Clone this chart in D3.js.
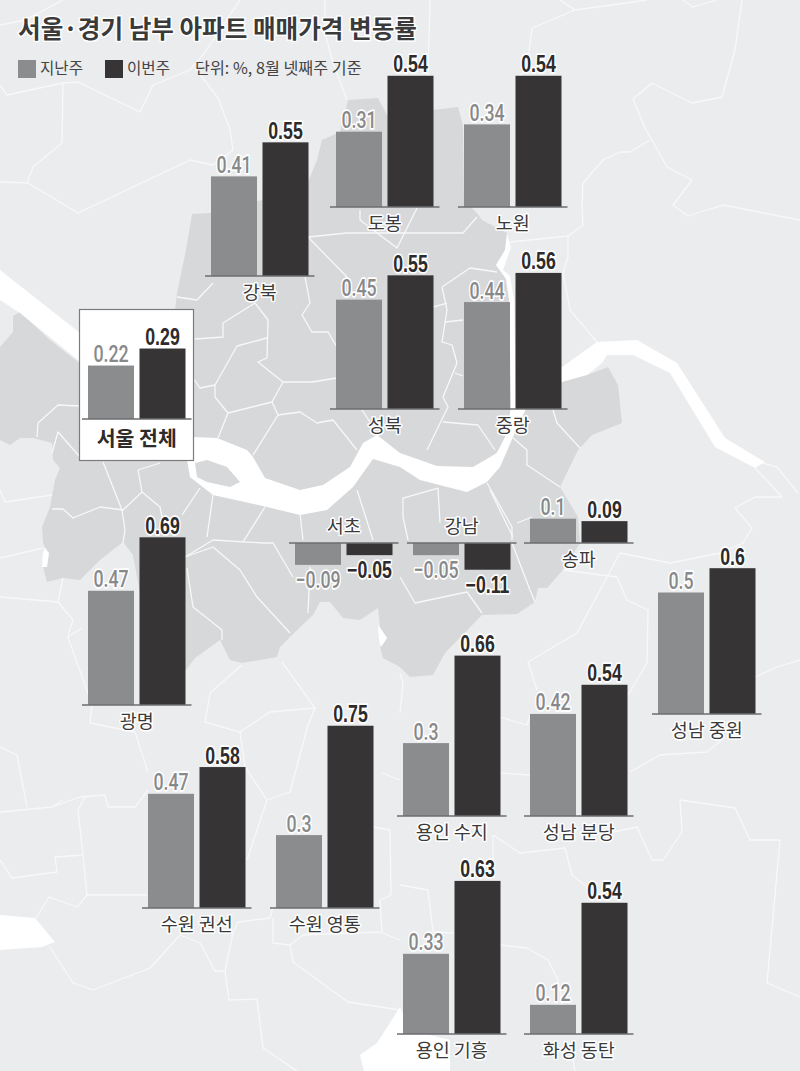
<!DOCTYPE html>
<html><head><meta charset="utf-8">
<script src="https://cdn.jsdelivr.net/npm/d3@7"></script>
<style>html,body{margin:0;padding:0;background:#fff}svg{display:block}</style>
</head><body><div id="chart"></div>
<script>
// ---------- chart data ----------
const titleText = "서울·경기 남부 아파트 매매가격 변동률";
const seriesNames = ["지난주", "이번주"];
const noteText = "단위: %, 8월 넷째주 기준";
const regions   = ["강북","도봉","노원","성북","중랑","서울 전체","광명","서초","강남","송파","성남 중원","용인 수지","성남 분당","수원 권선","수원 영통","용인 기흥","화성 동탄"];
const lastWeek  = [0.41,0.31,0.34,0.45,0.44,0.22,0.47,-0.09,-0.05,0.1,0.5,0.3,0.42,0.47,0.3,0.33,0.12];
const thisWeek  = [0.55,0.54,0.54,0.55,0.56,0.29,0.69,-0.05,-0.11,0.09,0.6,0.66,0.54,0.58,0.75,0.63,0.54];
const lastLabels = ["0.41","0.31","0.34","0.45","0.44","0.22","0.47","−0.09","−0.05","0.1","0.5","0.3","0.42","0.47","0.3","0.33","0.12"];
const thisLabels = ["0.55","0.54","0.54","0.55","0.56","0.29","0.69","−0.05","−0.11","0.09","0.6","0.66","0.54","0.58","0.75","0.63","0.54"];

// ---------- panel layout (left edge, baseline) ----------
const panelLeft = [211,336,464,336,464,88,88,295,413,530,658,403,530,148,276,403,530];
const panelBase = [276,207,207,409,409,419,705,543,543,543,714,816,816,908,908,1034,1034];

// ---------- background map (decorative geography) ----------
const seoulNorth = [[192,214],[210,213],[262,200],[308,182],[317,160],[322,140],[340,132],[348,100],[378,98],[388,117],[433,110],[458,107],[463,125],[464,200],[477,213],[482,220],[507,233],[511,247],[497,265],[507,275],[511,300],[512,400],[510,432],[490,462],[437,478],[400,460],[372,448],[350,478],[300,502],[267,490],[215,468],[185,445],[175,310],[177,293],[186,250]];
const seoulSouth = [[20,312],[13,316],[13,332],[0,347],[0,440],[10,445],[20,438],[33,438],[52,443],[53,460],[60,468],[55,480],[50,507],[42,527],[43,543],[48,553],[42,563],[47,582],[63,578],[80,580],[100,560],[123,542],[133,555],[145,620],[186,670],[195,658],[220,640],[230,660],[242,663],[277,657],[280,647],[292,635],[313,615],[320,602],[330,602],[343,618],[360,620],[378,608],[380,627],[387,638],[380,647],[383,658],[400,667],[410,677],[433,675],[445,653],[482,615],[517,614],[535,602],[538,588],[547,588],[563,570],[580,543],[578,517],[560,487],[578,450],[592,435],[622,423],[618,385],[608,367],[587,375],[565,376],[530,392],[512,430],[490,465],[437,480],[400,462],[372,448],[350,478],[300,502],[267,490],[215,468],[185,445],[120,395],[50,340]];
const hanRiver = [[0,270],[80,333],[193,437],[217,438],[247,450],[253,457],[265,478],[300,490],[323,485],[350,467],[363,443],[377,435],[400,453],[437,466],[473,467],[497,453],[507,433],[512,400],[520,385],[562,367],[597,342],[637,340],[677,363],[725,438],[765,462],[755,468],[715,447],[670,373],[633,355],[607,355],[602,363],[587,375],[562,382],[530,400],[513,437],[500,467],[487,482],[467,492],[420,480],[400,467],[373,459],[353,487],[327,510],[300,515],[267,507],[213,495],[190,477],[187,460],[150,430],[78,360],[20,313],[0,300]];
const yeouido = [[195,463],[207,460],[227,467],[240,482],[230,487],[207,482],[197,477]];
const tributary = [[507,233],[511,247],[503,270],[510,276],[514,300],[516,405],[511,405],[509,300],[506,279],[496,265],[505,250]];
const whitePatches = [
  [[0,915],[35,918],[55,942],[42,947],[0,950]],
  [[400,1007],[377,1043],[360,1055],[364,1071],[450,1071],[450,1040],[410,1030]],
  [[45,548],[49,553],[47,567],[42,567],[43,552]],
  [[378,625],[387,638],[381,647],[379,640]]
];
const mapLines = [
  [[0,25],[25,20],[63,0]],
  [[0,85],[7,95],[63,83],[78,82],[140,112],[153,85],[190,70],[203,55],[240,0]],
  [[195,68],[218,98],[230,130],[233,150]],
  [[0,182],[28,183],[78,213],[190,160],[213,165],[233,150]],
  [[63,83],[62,143],[33,167],[27,183]],
  [[325,0],[325,33],[333,63],[347,100]],
  [[430,0],[428,77]],
  [[515,83],[527,67],[532,28],[575,10],[647,0]],
  [[560,0],[575,10]],
  [[683,0],[693,7],[717,0]],
  [[742,0],[735,50],[722,97],[692,103],[652,83],[633,99],[645,128],[667,167],[692,180],[673,205],[688,216],[723,205],[800,220]],
  [[650,140],[630,152],[620,152],[603,160],[583,183],[582,207],[583,225],[568,236],[510,242]],
  [[568,236],[568,257],[563,273],[567,293],[570,310],[597,342]],
  [[763,463],[777,467],[798,493]],
  [[755,468],[773,487],[782,497],[755,497],[735,508],[752,528],[743,543],[720,553],[670,563],[620,553],[577,633],[528,662],[537,690]],
  [[563,570],[617,577],[627,600],[648,610],[647,663],[628,695]],
  [[800,660],[777,667],[755,677]],
  [[500,717],[527,725],[530,715]],
  [[630,772],[660,755],[707,752],[722,740]],
  [[500,773],[530,775]],
  [[680,800],[735,808],[750,840],[780,840],[767,983],[800,997]],
  [[680,800],[682,832],[663,860],[652,860],[637,827],[613,832]],
  [[493,835],[520,853],[565,848],[572,875],[587,887]],
  [[493,835],[493,860]],
  [[400,885],[428,890],[433,932],[455,933]],
  [[500,945],[527,948],[548,960],[558,980],[565,1020]],
  [[573,1060],[575,1071]],
  [[0,812],[52,807],[63,800]],
  [[0,747],[17,755],[27,807]],
  [[0,860],[12,878],[57,872],[55,857],[83,855]],
  [[85,797],[78,810],[83,855],[87,895],[77,907],[49,897],[36,918]],
  [[87,895],[147,895]],
  [[52,807],[80,797],[105,795],[108,807],[135,807],[148,790]],
  [[148,772],[135,732],[90,723],[92,705],[68,637],[82,628]],
  [[0,597],[58,602],[63,578]],
  [[58,602],[73,620],[68,635]],
  [[0,558],[43,548]],
  [[5,502],[52,495]],
  [[0,490],[5,502]],
  [[50,947],[73,983],[93,990],[150,968],[180,935],[200,943],[215,971],[225,971],[233,933],[238,922],[270,918],[273,907]],
  [[225,971],[229,1000],[257,999],[263,1048],[297,1071]],
  [[273,918],[273,943],[290,945],[293,962],[348,1002],[400,1010]],
  [[290,945],[303,935],[380,932],[400,940]],
  [[373,827],[390,830],[391,895],[380,900],[382,932]],
  [[267,800],[247,860]],
  [[267,800],[290,792],[308,725],[315,708],[270,712],[240,732],[205,722],[210,693],[242,665]],
  [[240,732],[245,767],[267,800]],
  [[282,662],[315,708]],
  [[382,773],[400,780]],
  [[400,673],[403,683],[400,713]],
  // inside Seoul
  [[308,237],[347,233],[463,233],[477,217]],
  [[308,237],[347,277]],
  [[360,210],[360,220],[397,248],[417,208]],
  [[305,277],[310,303],[302,315],[312,332],[328,332],[337,347]],
  [[177,297],[197,300],[213,283]],
  [[255,303],[223,323],[223,337],[195,339]],
  [[255,303],[268,320],[267,358],[258,362],[283,382],[312,382],[337,378]],
  [[267,338],[237,346],[215,385],[215,397],[228,413],[272,402],[283,382]],
  [[193,378],[200,388],[215,385]],
  [[228,413],[218,438]],
  [[272,402],[278,415],[253,455]],
  [[278,415],[300,412],[317,423],[333,420],[357,450]],
  [[362,410],[370,422]],
  [[442,287],[470,268],[497,272]],
  [[442,287],[447,310],[442,342],[452,345],[457,363],[443,397],[448,407],[427,450]],
  [[433,307],[447,303]],
  [[445,322],[463,320]],
  [[455,373],[463,376]],
  [[443,422],[478,425],[495,450]],
  [[513,438],[527,450],[527,465],[560,487]],
  [[553,410],[557,423],[580,448]],
  [[487,483],[512,527],[512,540]],
  [[517,523],[532,517]],
  [[438,488],[440,523]],
  [[438,488],[403,498],[403,517],[408,540]],
  [[300,513],[303,540]],
  [[357,490],[373,540]],
  [[490,490],[513,537]],
  [[512,543],[530,590],[535,602]],
  [[310,567],[308,613]],
  [[400,577],[415,603],[467,592],[482,613]],
  [[213,547],[240,570],[257,597],[290,633]],
  [[213,547],[185,557]],
  [[185,557],[213,540],[263,543],[273,543],[293,577]],
  [[243,542],[265,507]],
  [[213,495],[207,537]],
  [[200,488],[182,515]],
  [[103,462],[122,510],[125,530],[123,543]],
  [[138,470],[142,492],[123,510],[100,507],[73,518],[63,509],[52,509]],
  [[142,492],[160,507],[162,517]],
  [[138,470],[160,463]],
  [[52,453],[58,432],[80,457]],
  [[37,437],[38,423],[58,405],[80,406]],
  [[187,568],[193,607],[222,630],[222,640]]
];

// ---------- drawing ----------
const W = 800, H = 1071;
const svg = d3.select("#chart").append("svg").attr("width", W).attr("height", H)
  .attr("viewBox", [0,0,W,H]).style("font-family", "'Noto Sans CJK KR','Noto Sans',sans-serif");

const GRAY = "#8b8c8e", DARK = "#363435", BG = "#ebecee", SEOUL = "#d7d8da";

svg.append("rect").attr("width", W).attr("height", H).attr("fill", BG);

const closed = d3.line().curve(d3.curveLinearClosed);
const open = d3.line();
const map = svg.append("g").attr("class","map");
map.selectAll(".seoul").data([seoulNorth, seoulSouth]).join("path").attr("class","seoul")
  .attr("d", closed).attr("fill", SEOUL);
map.selectAll(".ml").data(mapLines).join("path").attr("class","ml")
  .attr("d", open).attr("fill","none").attr("stroke","#f8f8f9").attr("stroke-width",1.3).attr("stroke-linejoin","round");
map.selectAll(".water").data([hanRiver, tributary, ...whitePatches]).join("path").attr("class","water")
  .attr("d", closed).attr("fill","#fff");
map.append("path").datum(yeouido).attr("d", closed).attr("fill", SEOUL);

// Seoul summary box
const boxIdx = regions.indexOf("서울 전체");
svg.append("rect").attr("x", panelLeft[boxIdx]-8.5).attr("y", 309.5).attr("width", 114).attr("height", 151)
  .attr("fill","#fff").attr("stroke","#7b7c7e").attr("stroke-width",1.2);

// Shared scales
const x = d3.scaleBand().domain(seriesNames).range([0, 97.5]).paddingInner(5.5/51.5);
const h = d3.scaleLinear().domain([0,1]).range([0,243]);

function halo(sel, w){
  return sel.attr("stroke","#fff").attr("stroke-width",w).attr("stroke-linejoin","round").style("paint-order","stroke");
}

const rows = regions.map((name,i)=>({name, i, vals:[lastWeek[i], thisWeek[i]], labs:[lastLabels[i], thisLabels[i]], left:panelLeft[i], base:panelBase[i]}));
const panels = svg.selectAll(".panel").data(rows).join("g").attr("class","panel")
  .attr("transform", d=>`translate(${d.left},${d.base})`);

panels.selectAll(".bar").data(d=>d.vals.map((v,k)=>({v,k,lab:d.labs[k]}))).join("rect").attr("class","bar")
  .attr("x", d=>x(seriesNames[d.k]))
  .attr("y", d=> d.v>=0 ? -h(d.v) : 0)
  .attr("width", x.bandwidth())
  .attr("height", d=>h(Math.abs(d.v)))
  .attr("fill", d=>d.k===0?GRAY:DARK);

panels.append("line").attr("x1",-6).attr("x2",103.5).attr("y1",0).attr("y2",0)
  .attr("stroke","#6d6e70").attr("stroke-width",1.5);

// Value labels: condensed by a horizontal scale, as no narrow face is installed
const vt = panels.selectAll(".val").data(d=>d.vals.map((v,k)=>({v,k,lab:d.labs[k]}))).join("text").attr("class","val")
  .attr("transform", d=>{
    const tx = x(seriesNames[d.k])+x.bandwidth()/2;
    const ty = d.v>=0 ? -h(d.v)-3.5 : h(-d.v)+23;
    return `translate(${tx},${ty}) scale(0.74,1)`;
  })
  .attr("text-anchor","middle")
  .style("font-family", d=>d.k===0?"Roboto,'Liberation Sans',sans-serif":"'Liberation Sans',Arial,sans-serif")
  .style("font-size","24px")
  .style("font-weight", d=>d.k===1?700:500)
  .attr("fill", d=>d.k===0?"#88898b":"#2d2b2c")
  .text(d=>d.lab);
halo(vt, 3.5);

const cats = panels.append("text").attr("class","cat")
  .attr("x", 48.75)
  .attr("y", d=> d.name==="서울 전체" ? 27 : (d.vals[0]<0 ? -10 : 23))
  .attr("text-anchor","middle")
  .style("font-size", d=> d.name==="서울 전체" ? "20.5px":"18.5px")
  .style("font-weight", d=> d.name==="서울 전체" ? 700:400)
  .attr("fill", d=> d.name==="서울 전체" ? "#2d2b2c":"#3a3a3a")
  .text(d=>d.name);
halo(cats.filter(d=>d.name!=="서울 전체"), 3);

// Title + legend
halo(svg.append("text").attr("x",18).attr("y",38).style("font-size","24.6px").style("font-weight",700)
  .attr("fill","#3a3a3a").text(titleText), 3);

const legend = svg.append("g");
const legendX = d3.scaleOrdinal().domain(seriesNames).range([18,105]);
legend.selectAll("rect").data(seriesNames).join("rect")
  .attr("x", d=>legendX(d)).attr("y",60).attr("width",18).attr("height",18)
  .attr("fill",(d,i)=>i===0?GRAY:DARK);
legend.selectAll("text").data(seriesNames).join("text")
  .attr("x", d=>legendX(d)+22).attr("y",74).style("font-size","15.6px").attr("fill","#444").text(d=>d);
legend.append("text").attr("x",195).attr("y",74).style("font-size","16.2px").attr("fill","#444").text(noteText);
</script></body></html>
